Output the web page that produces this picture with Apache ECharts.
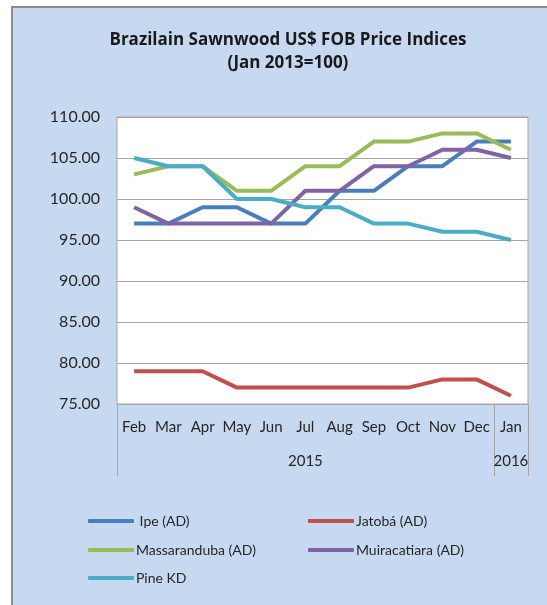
<!DOCTYPE html>
<html>
<head>
<meta charset="utf-8">
<script src="https://cdn.jsdelivr.net/npm/echarts@6/dist/echarts.min.js"></script>
<style>
  html, body { margin: 0; padding: 0; background: #fff; }
  #chart { width: 547px; height: 605px; }
</style>
</head>
<body>
<div id="chart"></div>
<script>
const months = ['Feb', 'Mar', 'Apr', 'May', 'Jun', 'Jul', 'Aug', 'Sep', 'Oct', 'Nov', 'Dec', 'Jan']
const years = ['', '', '', '', '', '2015', '', '', '', '', '', '2016']

const ipe = [97, 97, 99, 99, 97, 97, 101, 101, 104, 104, 107, 107]
const jatoba = [79, 79, 79, 77, 77, 77, 77, 77, 77, 78, 78, 76]
const massaranduba = [103, 104, 104, 101, 101, 104, 104, 107, 107, 108, 108, 106]
const muiracatiara = [99, 97, 97, 97, 97, 101, 101, 104, 104, 106, 106, 105]
const pineKD = [105, 104, 104, 100, 100, 99, 99, 97, 97, 96, 96, 95]

const seriesNames = [' Ipe (AD)', 'Jatobá (AD)', 'Massaranduba (AD)', 'Muiracatiara (AD)', 'Pine KD']
const seriesData = [ipe, jatoba, massaranduba, muiracatiara, pineKD]
const colors = ['#4a7ebb', '#c0504d', '#9bbb59', '#8064a2', '#4bacc6']

const font = 'Lato, "Open Sans", sans-serif'

const chart = echarts.init(document.getElementById('chart'))

// legend slots (two columns, three rows)
const legendPos = [
  { left: 83, top: 509 },
  { left: 303, top: 509 },
  { left: 83, top: 538 },
  { left: 303, top: 538 },
  { left: 83, top: 566 }
]

const axisText = { fontFamily: font, fontSize: 15, color: '#262626' }

const options = {
  animation: false,
  color: colors,
  graphic: [
    {
      type: 'rect',
      z: -10,
      silent: true,
      shape: { x: 12, y: 7, width: 560, height: 620 },
      style: { fill: '#c6d9f1', stroke: '#8c8c8c', lineWidth: 2 }
    }
  ],
  title: {
    text: 'Brazilain Sawnwood US$ FOB Price Indices\n(Jan 2013=100)',
    left: 283,
    textAlign: 'center',
    top: 24,
    textStyle: {
      fontFamily: '"Open Sans", sans-serif',
      fontSize: 17,
      fontWeight: 'bold',
      color: '#1a1a1a',
      lineHeight: 23
    }
  },
  legend: seriesNames.map((n, i) => ({
    data: [n],
    left: legendPos[i].left,
    top: legendPos[i].top,
    icon: 'roundRect',
    itemWidth: 46,
    itemHeight: 4,
    textStyle: { fontFamily: font, fontSize: 14, color: '#262626', padding: [0, 0, 0, -3] }
  })),
  grid: {
    left: 117,
    right: 19,
    top: 117,
    bottom: 201,
    show: true,
    backgroundColor: '#ffffff',
    borderColor: '#a6a6a6',
    borderWidth: 1
  },
  xAxis: [
    {
      type: 'category',
      data: months,
      boundaryGap: true,
      axisLine: { lineStyle: { color: '#a6a6a6', width: 1 } },
      axisTick: {
        show: true,
        length: 72,
        interval: (i) => i === 0 || i === months.length - 1,
        lineStyle: { color: '#a6a6a6', width: 1 }
      },
      axisLabel: Object.assign({ interval: 0, margin: 16 }, axisText)
    },
    {
      type: 'category',
      data: years,
      position: 'bottom',
      offset: 34,
      axisLine: { show: false },
      axisTick: { show: false },
      axisLabel: Object.assign({ interval: 0, margin: 16 }, axisText)
    }
  ],
  yAxis: {
    type: 'value',
    min: 75,
    max: 110,
    interval: 5,
    axisLine: { show: false },
    axisTick: { show: false },
    splitLine: { lineStyle: { color: '#a6a6a6', width: 1 } },
    axisLabel: Object.assign({ margin: 17, formatter: (v) => v.toFixed(2) }, axisText, { fontSize: 16 })
  },
  series: seriesNames.map((n, i) => ({
    name: n,
    type: 'line',
    data: seriesData[i],
    showSymbol: false,
    symbol: 'none',
    lineStyle: { width: 4, color: colors[i] }
  }))
}

chart.setOption(options)
</script>
</body>
</html>
